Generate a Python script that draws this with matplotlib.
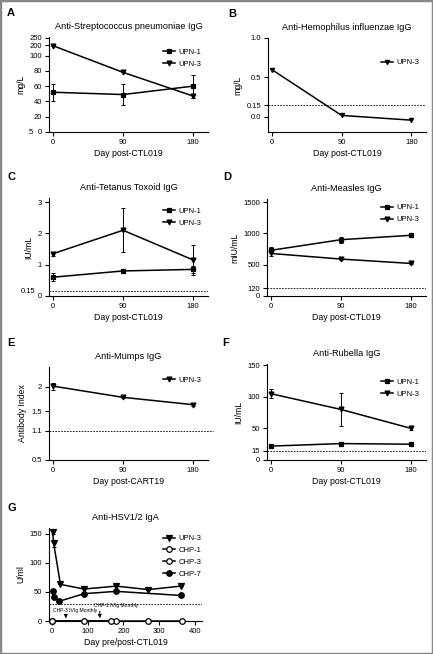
import matplotlib
matplotlib.use("Agg")
import matplotlib.pyplot as plt
import numpy as np
from matplotlib.patches import Rectangle

plt.rcParams['font.family'] = ['Liberation Sans', 'DejaVu Sans']
plt.rcParams['font.size'] = 5.5

# ---- data ----
days = [0, 90, 180]

# A: Anti-Streptococcus pneumoniae IgG (mg/L)
a_upn1 = [52, 49, 60]
a_upn1_err = [11, 14, 15]
a_upn3 = [195, 78, 47]
a_upn3_err = [5, 0, 3]

# B: Anti-Hemophilus influenzae IgG (mg/L)
b_upn3 = [0.60, 0.02, -0.04]

# C: Anti-Tetanus Toxoid IgG (IU/mL)
c_upn1 = [0.60, 0.80, 0.85]
c_upn1_err = [0.12, 0.0, 0.12]
c_upn3 = [1.35, 2.10, 1.15]
c_upn3_err = [0.06, 0.70, 0.48]

# D: Anti-Measles IgG (mIU/mL)
d_upn1 = [730, 900, 970]
d_upn1_err = [50, 50, 15]
d_upn3 = [680, 590, 520]
d_upn3_err = [35, 10, 8]

# E: Anti-Mumps IgG (Antibody Index)
e_upn3 = [2.01, 1.78, 1.63]
e_upn3_err = [0.07, 0.01, 0.03]

# F: Anti-Rubella IgG (IU/mL)
f_upn1 = [22, 26, 25]
f_upn3 = [105, 80, 50]
f_upn3_err = [7, 26, 3]

# G: Anti-HSV1/2 IgA (U/ml)
g_upn3_x = [2, 5, 24, 90, 180, 270, 360]
g_upn3_y = [153, 134, 63, 55, 60, 54, 60]
g_upn3_err = [3, 6, 0, 0, 0, 0, 0]
g_chp1_x = [0, 180, 270, 365]
g_chp1_y = [0, 0, 0, 0]
g_chp3_x = [0, 90, 165]
g_chp3_y = [0, 0, 0]
g_chp7_x = [2, 6, 21, 90, 180, 360]
g_chp7_y = [52, 41, 34, 47, 51, 44]

W, H = 433, 654
fig = plt.figure(figsize=(W / 100, H / 100), dpi=100)


def add_ax(left, top, right, bottom):
    return fig.add_axes([left / W, 1 - bottom / H, (right - left) / W, (bottom - top) / H])


def style(ax, title, ylabel, xlabel="Day post-CTL019"):
    for s in ["top", "right"]:
        ax.spines[s].set_visible(False)
    for s in ["left", "bottom"]:
        ax.spines[s].set_linewidth(0.8)
    ax.tick_params(direction="out", length=3, width=0.8, labelsize=5.5, pad=2)
    ax.set_title(title, fontsize=6.6, pad=6)
    ax.set_ylabel(ylabel, fontsize=6.3, labelpad=3)
    ax.set_xlabel(xlabel, fontsize=6.3, labelpad=2)


def series(ax, x, y, marker, label, err=None, ms=3, mfc="black"):
    if err is not None:
        ax.errorbar(x, y, yerr=err, fmt="none", ecolor="black",
                    elinewidth=0.7, capsize=1.5, capthick=0.7)
    ax.plot(x, y, color="black", marker=marker, ms=ms, lw=1.1, mfc=mfc,
            mew=0.9, label=label, clip_on=False, zorder=4)


def leg(ax, **kw):
    ax.legend(loc="upper right", frameon=False, fontsize=5.5, handlelength=1.6,
              handletextpad=0.4, labelspacing=0.6, **kw)


def dashed(ax, y):
    ax.axhline(y, color="black", lw=0.6, ls=(0, (2, 1.5)))


def letter(x, y, s):
    fig.text(x / W, 1 - y / H, s, fontsize=8, fontweight="bold", va="center", ha="left")


# ---- A ----
ax = add_ax(49, 37, 208, 132)
bp = [0, 100, 200, 250, 300]
sp = [0, 100, 113.6, 123.3, 133]
ax.set_yscale("function", functions=(lambda v: np.interp(v, bp, sp),
                                     lambda v: np.interp(v, sp, bp)))
series(ax, days, a_upn1, "s", "UPN-1", a_upn1_err)
series(ax, days, a_upn3, "v", "UPN-3", a_upn3_err, ms=3.5)
ax.set_ylim(0, 255)
ax.set_yticks([0, 20, 40, 60, 80, 100, 200, 250])
ax.set_xlim(-5, 199)
ax.set_xticks(days)
style(ax, "Anti-Streptococcus pneumoniae IgG", "mg/L")
ax.text(-0.1, 0, "5", transform=ax.get_yaxis_transform(), fontsize=5.5, va="center", ha="right")
leg(ax, bbox_to_anchor=(1.0, 0.95))
letter(7, 13, "A")

# ---- B ----
ax = add_ax(268, 38, 426, 132)
series(ax, days, b_upn3, "v", "UPN-3", ms=3)
dashed(ax, 0.15)
ax.set_ylim(-0.19, 1.0)
ax.set_yticks([0.0, 0.15, 0.5, 1.0])
ax.set_yticklabels(["0.0", "0.15", "0.5", "1.0"])
ax.set_xlim(-5, 199)
ax.set_xticks(days)
style(ax, "Anti-Hemophilus influenzae IgG", "mg/L")
leg(ax, bbox_to_anchor=(1.0, 0.85))
letter(228, 14, "B")

# ---- C ----
ax = add_ax(49, 198, 208, 296)
series(ax, days, c_upn1, "s", "UPN-1", c_upn1_err)
series(ax, days, c_upn3, "v", "UPN-3", c_upn3_err, ms=3.5)
dashed(ax, 0.15)
ax.set_ylim(0, 3.13)
ax.set_yticks([0, 1, 2, 3])
ax.set_xlim(-5, 199)
ax.set_xticks(days)
style(ax, "Anti-Tetanus Toxoid IgG", "IU/mL")
ax.text(-0.085, 0.15, "0.15", transform=ax.get_yaxis_transform(), fontsize=5.5, va="center", ha="right")
leg(ax, bbox_to_anchor=(1.0, 0.97))
letter(7, 177, "C")

# ---- D ----
ax = add_ax(267, 199, 426, 296)
series(ax, days, d_upn1, "s", "UPN-1", d_upn1_err)
series(ax, days, d_upn3, "v", "UPN-3", d_upn3_err, ms=3.5)
dashed(ax, 120)
ax.set_ylim(0, 1550)
ax.set_yticks([0, 120, 500, 1000, 1500])
ax.set_xlim(-5, 199)
ax.set_xticks(days)
style(ax, "Anti-Measles IgG", "mIU/mL")
leg(ax, bbox_to_anchor=(1.0, 1.02))
letter(223, 177, "D")

# ---- E ----
ax = add_ax(49, 367, 208, 460)
series(ax, days, e_upn3, "v", "UPN-3", e_upn3_err, ms=3.5)
ax.set_ylim(0.5, 2.4)
ax.set_yticks([0.5, 1.1, 1.5, 2])
ax.set_yticklabels(["0.5", "1.1", "1.5", "2"])
ax.set_xlim(-5, 199)
ax.set_xticks(days)
style(ax, "Anti-Mumps IgG", "Antibody Index", "Day post-CART19")
ax.axhline(1.1, xmin=0, xmax=1.03, color="black", lw=0.6, ls=(0, (2, 1.5)), clip_on=False)
leg(ax, bbox_to_anchor=(1.0, 0.97))
letter(7, 343, "E")

# ---- F ----
ax = add_ax(267, 364, 426, 460)
series(ax, days, f_upn1, "s", "UPN-1")
series(ax, days, f_upn3, "v", "UPN-3", f_upn3_err, ms=3.5)
dashed(ax, 15)
ax.set_ylim(0, 152)
ax.set_yticks([0, 15, 50, 100, 150])
ax.set_xlim(-5, 199)
ax.set_xticks(days)
style(ax, "Anti-Rubella IgG", "IU/mL")
leg(ax, bbox_to_anchor=(1.0, 0.92))
letter(222, 343, "F")

# ---- G ----
ax = add_ax(49, 528, 202, 621)
series(ax, g_upn3_x, g_upn3_y, "v", "UPN-3", g_upn3_err, ms=4)
series(ax, g_chp1_x, g_chp1_y, "o", "CHP-1", ms=4, mfc="white")
series(ax, g_chp3_x, g_chp3_y, "o", "CHP-3", ms=4, mfc="white")
series(ax, g_chp7_x, g_chp7_y, "o", "CHP-7", ms=4)
dashed(ax, 30)
ax.set_ylim(0, 160)
ax.set_yticks([0, 50, 100, 150])
ax.set_xlim(-8, 420)
ax.set_xticks([0, 100, 200, 300, 400])
style(ax, "Anti-HSV1/2 IgA", "U/ml", "Day pre/post-CTL019")
ax.text(3, 14, "CHP-3 IVIg Monthly", fontsize=3.6, va="bottom")
ax.text(118, 23, "CHP-1 IVIg Monthly", fontsize=3.6, va="bottom")
ax.annotate("", xy=(39, 0), xytext=(39, 13),
            arrowprops=dict(arrowstyle="-|>", color="black", lw=0.7, mutation_scale=5))
ax.annotate("", xy=(134, 0), xytext=(134, 22),
            arrowprops=dict(arrowstyle="-|>", color="black", lw=0.7, mutation_scale=5))
leg(ax, bbox_to_anchor=(1.04, 1.0))
letter(7, 508, "G")

# gray frame around the figure
fig.patches.append(Rectangle((0, 0), 1, 1, transform=fig.transFigure, fill=False,
                             edgecolor="#888888", lw=2.5))

plt.savefig("out.png", dpi=100)
